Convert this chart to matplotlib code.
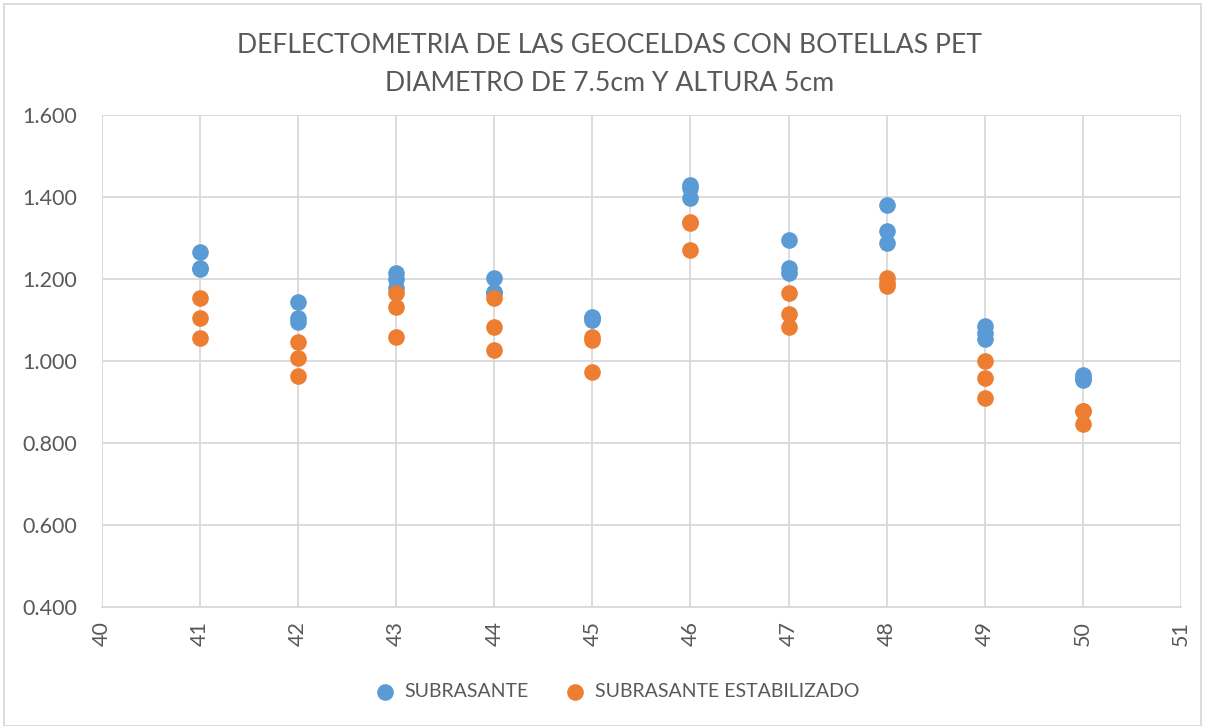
import matplotlib

matplotlib.use("Agg")
import matplotlib.pyplot as plt
from matplotlib.patches import Rectangle

GRAY_TEXT = "#595959"
GRID = "#d9d9d9"
BLUE = "#5b9bd5"
ORANGE = "#ed7d31"

plt.rcParams["font.family"] = ["Lato", "DejaVu Sans"]

# readings per station (x), three per series
sub_x = [41, 41, 41, 42, 42, 42, 43, 43, 43, 44, 44, 44, 45, 45, 45,
         46, 46, 46, 47, 47, 47, 48, 48, 48, 49, 49, 49, 50, 50, 50]
sub_y = [1.266, 1.227, 1.225, 1.145, 1.104, 1.096, 1.215, 1.200, 1.178,
         1.202, 1.169, 1.165, 1.108, 1.100, 1.104, 1.429, 1.421, 1.398,
         1.295, 1.226, 1.215, 1.380, 1.317, 1.287, 1.086, 1.068, 1.053,
         0.966, 0.954, 0.958]

est_x = sub_x
est_y = [1.153, 1.104, 1.056, 1.046, 1.008, 0.964, 1.167, 1.131, 1.058,
         1.153, 1.084, 1.027, 1.059, 1.051, 0.972, 1.340, 1.337, 1.271,
         1.165, 1.115, 1.082, 1.202, 1.190, 1.183, 1.000, 0.958, 0.909,
         0.878, 0.846, 0.878]

title_lines = ["DEFLECTOMETRIA DE LAS GEOCELDAS CON BOTELLAS PET",
               "DIAMETRO DE 7.5cm Y ALTURA 5cm"]

fig = plt.figure(figsize=(12.05, 7.26), dpi=100)
ax = fig.add_axes([0.0846, 0.164, 0.8954, 0.6776])

ax.scatter(sub_x, sub_y, s=120, color=BLUE, zorder=3, label="SUBRASANTE")
ax.scatter(est_x, est_y, s=120, color=ORANGE, zorder=3, label="SUBRASANTE ESTABILIZADO")

ax.set_xlim(40, 51)
ax.set_ylim(0.4, 1.6)
ax.set_xticks(range(40, 52))
ax.set_yticks([0.4, 0.6, 0.8, 1.0, 1.2, 1.4, 1.6])
ax.set_yticklabels([f"{v:.3f}" for v in ax.get_yticks()])
ax.tick_params(axis="x", rotation=90, length=0, labelsize=15.5, colors=GRAY_TEXT, pad=10)
ax.tick_params(axis="y", length=0, labelsize=15.5, colors=GRAY_TEXT, pad=18)
ax.grid(True, color=GRID, lw=1.3, zorder=0)
for side in ["top", "right", "left"]:
    ax.spines[side].set_visible(False)
ax.spines["bottom"].set_color(GRID)
ax.spines["bottom"].set_linewidth(1.3)

fig.text(0.506, 0.937, title_lines[0], ha="center", va="center", fontsize=19.2, color=GRAY_TEXT)
fig.text(0.506, 0.885, title_lines[1], ha="center", va="center", fontsize=19.2, color=GRAY_TEXT)

fig.legend(loc="center", bbox_to_anchor=(0.508, 0.048), ncol=2, frameon=False,
           fontsize=14, labelcolor=GRAY_TEXT, handletextpad=0.0,
           columnspacing=1.4, markerscale=1.0)

fig.patches.append(Rectangle((0.003, 0.0), 0.994, 0.995, transform=fig.transFigure,
                             fill=False, ec=GRID, lw=1.3))

fig.savefig("out.png", dpi=100)
